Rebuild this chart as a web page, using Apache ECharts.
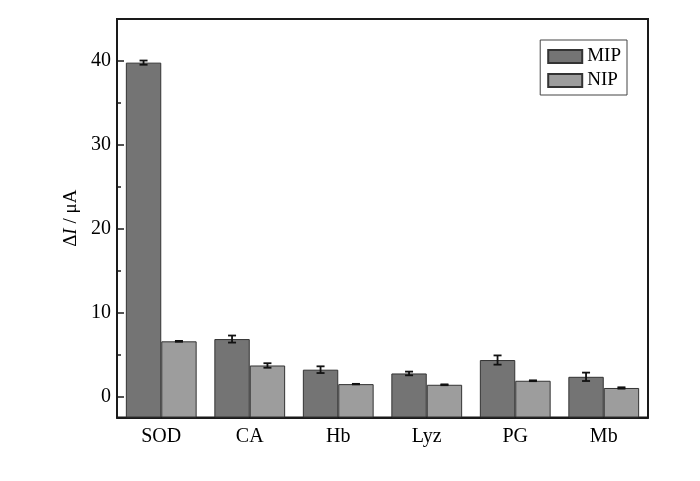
<!DOCTYPE html>
<html>
<head>
<meta charset="utf-8">
<script src="https://cdn.jsdelivr.net/npm/echarts@6/dist/echarts.min.js"></script>
<style>
html,body{margin:0;padding:0;background:#fff;}
#chart{width:700px;height:481px;}
</style>
</head>
<body>
<div id="chart"></div>
<script>
const categories = ['SOD', 'CA', 'Hb', 'Lyz', 'PG', 'Mb'];
const mipValues = [39.8, 6.85, 3.2, 2.75, 4.35, 2.35];
const mipErrors = [0.25, 0.42, 0.4, 0.22, 0.55, 0.5];
const nipValues = [6.58, 3.7, 1.48, 1.4, 1.88, 1.02];
const nipErrors = [0.05, 0.27, 0.03, 0.05, 0.05, 0.08];
const yTickLabels = [0, 10, 20, 30, 40];
const yMinorTicks = [5, 15, 25, 35];
const yMin = -2.5;
const yMax = 45;

// Bars in the reference rise from the bottom of the frame (y = yMin),
// so the plotted axis is shifted by -yMin and labels shifted back.
const BASE = -yMin;
const shift = v => v + BASE;

const FONT = "'Liberation Serif', 'Times New Roman', serif";
const BAR_FRAC = 0.4;

function errSeries(name, values, errors, side) {
  return {
    type: 'custom',
    name: name + '_err',
    z: 5,
    silent: true,
    data: values.map((v, i) => [i, shift(v), errors[i]]),
    encode: { x: 0, y: 1 },
    renderItem: function (params, api) {
      const idx = api.value(0);
      const v = api.value(1);
      const e = api.value(2);
      const band = api.size([1, 0])[0];
      const off = side * band * BAR_FRAC / 2;
      const pHi = api.coord([idx, v + e]);
      const pLo = api.coord([idx, v - e]);
      const x = pHi[0] + off;
      const cap = 4;
      const style = { stroke: '#111', lineWidth: 1.8 };
      return {
        type: 'group',
        children: [
          { type: 'line', shape: { x1: x, y1: pHi[1], x2: x, y2: pLo[1] }, style: style },
          { type: 'line', shape: { x1: x - cap, y1: pHi[1], x2: x + cap, y2: pHi[1] }, style: style },
          { type: 'line', shape: { x1: x - cap, y1: pLo[1], x2: x + cap, y2: pLo[1] }, style: style }
        ]
      };
    }
  };
}

const chart = echarts.init(document.getElementById('chart'), null, { renderer: 'canvas' });
chart.setOption({
  backgroundColor: '#fff',
  animation: false,
  textStyle: { fontFamily: FONT, color: '#000' },
  grid: {
    left: 117, right: 52, top: 19, bottom: 63.5,
    show: true, borderColor: '#1a1a1a', borderWidth: 2, backgroundColor: 'transparent'
  },
  legend: {
    data: ['MIP', 'NIP'],
    orient: 'vertical',
    right: 73,
    top: 40,
    itemWidth: 34,
    itemHeight: 13,
    itemGap: 5,
    padding: [7, 6, 5, 7],
    borderColor: '#444',
    borderWidth: 1,
    icon: 'rect',
    textStyle: { fontFamily: FONT, fontSize: 19, color: '#000', padding: [2, 0, 0, 0] }
  },
  xAxis: {
    type: 'category',
    data: categories,
    axisLine: { show: true, onZero: false, lineStyle: { color: '#1a1a1a', width: 2 } },
    axisTick: { show: false },
    axisLabel: { fontFamily: FONT, fontSize: 20, color: '#000', margin: 9 },
    splitLine: { show: false }
  },
  yAxis: [{
    type: 'value',
    min: shift(yMin),
    max: shift(yMax),
    name: '{a|Δ}{i|I}{a| / μA}',
    nameLocation: 'middle',
    nameGap: 28,
    nameRotate: 90,
    nameTextStyle: {
      rich: {
        a: { fontFamily: FONT, fontSize: 19, color: '#000' },
        i: { fontFamily: FONT, fontSize: 19, color: '#000', fontStyle: 'italic' }
      }
    },
    axisLine: { show: true, lineStyle: { color: '#1a1a1a', width: 2 } },
    axisTick: {
      show: true, inside: true, length: 7, customValues: yTickLabels.map(shift),
      lineStyle: { color: '#1a1a1a', width: 1.5 }
    },
    axisLabel: {
      fontFamily: FONT, fontSize: 20, color: '#000', margin: 6,
      customValues: yTickLabels.map(shift),
      formatter: v => String(Math.round(v - BASE))
    },
    splitLine: { show: false }
  }, {
    type: 'value',
    position: 'left',
    min: shift(yMin),
    max: shift(yMax),
    axisLine: { show: false },
    axisTick: {
      show: true, inside: true, length: 4, customValues: yMinorTicks.map(shift),
      lineStyle: { color: '#1a1a1a', width: 1.5 }
    },
    axisLabel: { show: false, customValues: yMinorTicks.map(shift) },
    splitLine: { show: false }
  }],
  series: [
    {
      name: 'MIP', type: 'bar', data: mipValues.map(shift),
      barWidth: (BAR_FRAC * 100) + '%', barGap: '0%',
      itemStyle: { color: '#747474', borderColor: '#333', borderWidth: 1 }
    },
    {
      name: 'NIP', type: 'bar', data: nipValues.map(shift),
      barWidth: (BAR_FRAC * 100) + '%', barGap: '0%',
      itemStyle: { color: '#9d9d9d', borderColor: '#333', borderWidth: 1 }
    },
    errSeries('MIP', mipValues, mipErrors, -1),
    errSeries('NIP', nipValues, nipErrors, 1)
  ]
});
</script>
</body>
</html>
